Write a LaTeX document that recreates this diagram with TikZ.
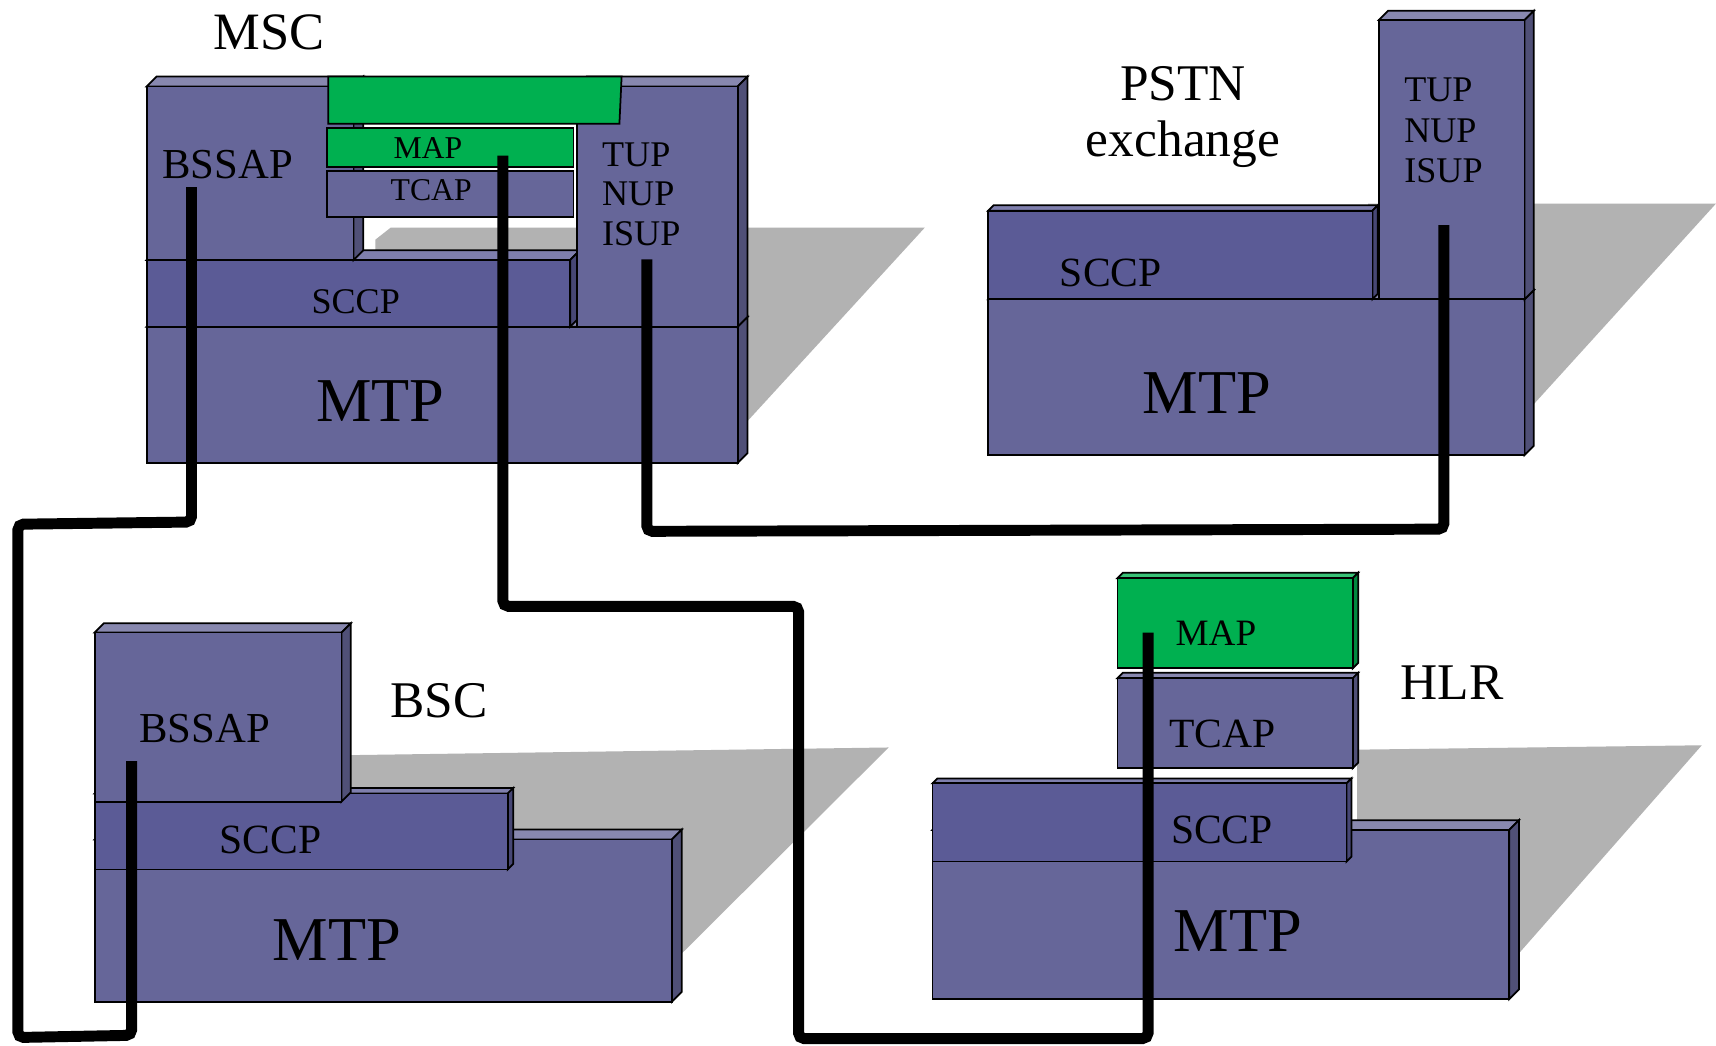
\documentclass[tikz,border=0pt]{standalone}
\usepackage{fontspec}
\setmainfont{Liberation Serif}

\definecolor{layer}{RGB}{102,102,153}
\definecolor{sccpc}{RGB}{91,91,150}
\definecolor{mapc}{RGB}{0,176,80}
\definecolor{shade}{RGB}{178,178,178}

\tikzset{
  edge/.style={draw=black, line width=1.6pt, line join=miter},
  link/.style={draw=black, line width=10pt, rounded corners=5pt},
  lbl/.style={inner sep=0pt, anchor=base},
  floorshadow/.style={fill=shade},
}

% 3-D slab: front face (x1,y1)-(x2,y2), depth d, fill colour
\newcommand\slab[6]{%
  \filldraw[edge, fill=#6!78!white] (#1,#2) -- (#1+#5,#2-#5) -- (#3+#5,#2-#5) -- (#3,#2) -- cycle;
  \filldraw[edge, fill=#6!78!black] (#3,#2) -- (#3+#5,#2-#5) -- (#3+#5,#4-#5) -- (#3,#4) -- cycle;
  \filldraw[edge, fill=#6] (#1,#2) rectangle (#3,#4);
}
\newcommand\lfs[1]{\fontsize{#1}{#1}\selectfont}

\begin{document}
\begin{tikzpicture}[x=1pt, y=-1pt]
\useasboundingbox (0,0) rectangle (1568,955);
\fill[white] (0,0) rectangle (1568,955);

% ---------- floor shadows ----------
\fill[floorshadow] (343,219) -- (357,208) -- (845,208) -- (648,423) -- (343,423) -- cycle;
\fill[floorshadow] (1250,186) -- (1568,186) -- (1360,415) -- (1250,415) -- cycle;
\fill[floorshadow] (320,690) -- (812,683) -- (580,914) -- (320,914) -- cycle;
\fill[floorshadow] (1240,685) -- (1555,681) -- (1352,912) -- (1240,912) -- cycle;

% ---------- MSC stack ----------
\slab{134}{298.5}{674}{423}{9}{layer}
\slab{134}{237.6}{521}{298.5}{9}{sccpc}
\slab{134}{79}{323}{237.6}{9}{layer}
\slab{527}{79}{674}{298.5}{9}{layer}
\filldraw[edge, fill=mapc] (300,70) -- (568,70) -- (566,113) -- (300,113) -- cycle;
\filldraw[edge, fill=mapc] (299,117.3) rectangle (524,152.3);
\filldraw[edge, fill=layer] (299,156) rectangle (524,198.6);

\node[lbl, font=\lfs{48}] (mscTitle) at (246,45) {MSC};
\node[lbl, font=\lfs{39}] (mscBssap) at (208,163) {BSSAP};
\node[lbl, font=\lfs{29}] (mscMap) at (391,144.7) {MAP};
\node[lbl, font=\lfs{29}] (mscTcap) at (394,183.4) {TCAP};
\node[lbl, anchor=base west, font=\fontsize{33}{36.4}\selectfont] (mscUser) at (550,151.7)
  {\begin{tabular}[t]{@{}l@{}}TUP\\NUP\\ISUP\end{tabular}};
\node[lbl, font=\lfs{33}] (mscSccp) at (325,286.5) {SCCP};
\node[lbl, font=\lfs{57}] (mscMtp) at (347.6,385.3) {MTP};

% ---------- PSTN exchange stack ----------
\slab{903}{273.5}{1393}{415.8}{8.5}{layer}
\slab{903}{192.5}{1254}{273.5}{5}{sccpc}
\slab{1260}{18.3}{1393}{273.5}{8.5}{layer}

\node[lbl, font=\fontsize{47}{51.6}\selectfont] (pstnTitle) at (1081,91.4)
  {\begin{tabular}[t]{@{}c@{}}PSTN\\exchange\end{tabular}};
\node[lbl, anchor=base west, font=\fontsize{33}{37}\selectfont] (pstnUser) at (1283,92.9)
  {\begin{tabular}[t]{@{}l@{}}TUP\\NUP\\ISUP\end{tabular}};
\node[lbl, font=\lfs{38}] (pstnSccp) at (1015,262) {SCCP};
\node[lbl, font=\lfs{57}] (pstnMtp) at (1102.6,377.7) {MTP};

% ---------- BSC stack ----------
\slab{86.5}{767}{614}{915.3}{9}{layer}
\slab{86.5}{725}{464}{794.4}{5}{sccpc}
\slab{86.5}{578}{312}{732.5}{8.5}{layer}

\node[lbl, font=\lfs{47}] (bscTitle) at (401,655.4) {BSC};
\node[lbl, font=\lfs{39}] (bscBssap) at (187,678.6) {BSSAP};
\node[lbl, font=\lfs{38}] (bscSccp) at (247,779.7) {SCCP};
\node[lbl, font=\lfs{57}] (bscMtp) at (308,877.2) {MTP};

% ---------- HLR stack ----------
\slab{852}{758.4}{1379}{913.1}{9}{layer}
\slab{852}{715.8}{1230.4}{787.3}{4.5}{sccpc}
\slab{1021}{619.8}{1236}{702}{5}{layer}
\slab{1021}{528.4}{1236}{610.7}{5}{mapc}

\node[lbl, font=\lfs{47}] (hlrTitle) at (1327,639.6) {HLR};
\node[lbl, font=\lfs{34}] (hlrMap) at (1111,589.4) {MAP};
\node[lbl, font=\lfs{38}] (hlrTcap) at (1117,682.9) {TCAP};
\node[lbl, font=\lfs{38}] (hlrSccp) at (1116.5,770.6) {SCCP};
\node[lbl, font=\lfs{57}] (hlrMtp) at (1131,869.6) {MTP};

% ---------- signalling links ----------
\coordinate (mscBssapPort) at (175,171);
\coordinate (bscBssapPort) at (120.3,695.4);
\coordinate (mscMapPort) at (459.5,142.3);
\coordinate (hlrMapPort) at (1049,578);
\coordinate (mscUserPort) at (591,237);
\coordinate (pstnUserPort) at (1319.3,205.6);

\draw[link] (mscBssapPort) -- (175,477) -- (16.4,479) -- (16.4,948) -- (120.3,946) -- (bscBssapPort);
\draw[link] (mscMapPort) -- (459.5,554) -- (729.7,554) -- (729.7,949) -- (1049,949) -- (hlrMapPort);
\draw[link] (mscUserPort) -- (591,485.5) -- (1319.3,483.5) -- (pstnUserPort);
\end{tikzpicture}
\end{document}
